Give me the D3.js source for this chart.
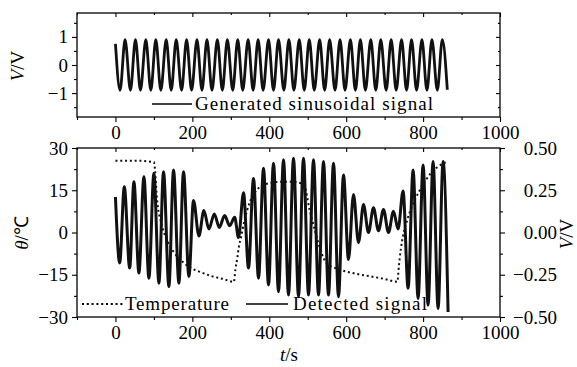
<!DOCTYPE html>
<html>
<head>
<meta charset="utf-8">
<script src="https://cdn.jsdelivr.net/npm/d3@7"></script>
<style>
  body { margin: 0; background: #fff; }
  svg { display: block; }
</style>
</head>
<body>
<svg id="chart" width="577" height="367"></svg>
<script>
// generated sinusoidal signal, extremes (s, V)
const genT = [0, 12, 25, 39, 52, 65, 79, 92, 105, 118, 132, 145, 158, 172, 185, 198, 212, 225, 238, 251,
  265, 278, 291, 305, 318, 331, 345, 358, 371, 384, 398, 411, 424, 438, 451, 464, 478, 491, 504, 517,
  531, 544, 557, 571, 584, 597, 611, 624, 637, 650, 664, 677, 690, 704, 717, 730, 744, 757, 770, 783,
  797, 810, 823, 837, 850, 863];
const genV = [0.75, -0.9, 0.9, -0.9, 0.9, -0.9, 0.9, -0.9, 0.9, -0.9, 0.9, -0.9, 0.9, -0.9, 0.9, -0.9, 0.9, -0.9, 0.9, -0.9,
  0.9, -0.9, 0.9, -0.9, 0.9, -0.9, 0.9, -0.9, 0.9, -0.9, 0.9, -0.9, 0.9, -0.9, 0.9, -0.9, 0.9, -0.9, 0.9, -0.9,
  0.9, -0.9, 0.9, -0.9, 0.9, -0.9, 0.9, -0.9, 0.9, -0.9, 0.9, -0.9, 0.9, -0.9, 0.9, -0.9, 0.9, -0.9, 0.9, -0.9,
  0.9, -0.9, 0.9, -0.9, 0.9, -0.88];

// detected signal, extremes (s, V)
const detT = [0, 11, 23, 37, 48, 61, 74, 87, 100, 113, 125, 139, 151, 165, 177, 191, 203, 217, 230, 243,
  257, 270, 284, 297, 310, 320, 333, 346, 359, 372, 385, 398, 411, 424, 437, 450, 463, 476, 489, 502,
  515, 528, 541, 554, 567, 580, 593, 606, 619, 632, 645, 658, 671, 684, 697, 710, 723, 735, 748, 761,
  774, 787, 800, 813, 826, 839, 852, 865];
const detV = [0.21, -0.18, 0.27, -0.21, 0.30, -0.24, 0.33, -0.27, 0.35, -0.30, 0.36, -0.32, 0.37, -0.30, 0.36, -0.26, 0.19, -0.02, 0.13, 0.02,
  0.11, 0.03, 0.10, 0.04, 0.09, -0.03, 0.235, -0.21, 0.32, -0.27, 0.38, -0.31, 0.41, -0.35, 0.43, -0.37, 0.44, -0.38, 0.44, -0.37,
  0.43, -0.37, 0.42, -0.37, 0.41, -0.38, 0.34, -0.16, 0.225, -0.06, 0.165, 0.0, 0.146, 0.01, 0.136, 0.0, 0.126, 0.02, 0.245, -0.33,
  0.37, -0.39, 0.40, -0.43, 0.42, -0.45, 0.42, -0.47];

// temperature (s, °C)
const tempT = [0, 50, 100, 103, 108, 120, 135, 152, 180, 195, 220, 250, 280, 308, 312, 317, 321, 327, 335, 350,
  370, 400, 430, 460, 490, 505, 520, 535, 550, 580, 620, 660, 700, 733, 737, 742, 748, 760, 780, 800,
  820, 840, 860];
const tempV = [25.5, 25.5, 25, 22, 12, 3, -3, -7, -11, -12.5, -14, -15.5, -16.5, -17.5, -13, -9, -5, -1.4, 4, 11,
  15.5, 17.5, 18, 18, 17, 8, 0, -7, -11, -13, -14.5, -15.5, -16.5, -17.5, -12, -6, -1, 5, 12, 17,
  21, 23.5, 25];

const xTicks = [0, 200, 400, 600, 800, 1000];
const xMinor = [-100, 100, 300, 500, 700, 900];
const topYTicks = [-1, 0, 1];
const topYMinor = [-1.5, -0.5, 0.5, 1.5];
const tempTicks = [-30, -15, 0, 15, 30];
const tempMinor = [-22.5, -7.5, 7.5, 22.5];
const voltTicks = [-0.5, -0.25, 0, 0.25, 0.5];
const voltMinor = [-0.375, -0.125, 0.125, 0.375];

const svg = d3.select("#chart");
const L = 77, R = 500;
const top1 = 13, bot1 = 117, top2 = 148, bot2 = 317;
const FS = "19px";
const SERIF = "Liberation Serif";

const x = d3.scaleLinear().domain([-100, 1000]).range([L, R]);
const yGen = d3.scaleLinear().domain([-1.85, 1.85]).range([bot1, top1]);
const yTemp = d3.scaleLinear().domain([-30, 30]).range([bot2, top2]);
const yVolt = d3.scaleLinear().domain([-0.5, 0.5]).range([bot2, top2]);

function styleAxis(g) {
  g.attr("font-family", null).attr("font-size", null);
  g.select(".domain").remove();
  g.selectAll("line").attr("stroke", "#000").attr("stroke-width", 1.1);
  g.selectAll("text").attr("fill", "#000");
}

function frame(y, yt, ymin, y0, y1, withRight) {
  // ticks outward on left and bottom, inward on top/right
  svg.append("g").attr("transform", `translate(0,${y1})`)
    .call(d3.axisBottom(x).tickValues(xTicks).tickSize(5).tickPadding(4).tickFormat(d3.format("d")))
    .call(styleAxis);
  svg.append("g").attr("transform", `translate(0,${y1})`)
    .call(d3.axisBottom(x).tickValues(xMinor).tickSize(3).tickFormat(""))
    .call(styleAxis);
  svg.append("g").attr("transform", `translate(0,${y0})`)
    .call(d3.axisBottom(x).tickValues(xTicks).tickSize(4).tickFormat(""))
    .call(styleAxis);
  svg.append("g").attr("transform", `translate(0,${y0})`)
    .call(d3.axisBottom(x).tickValues(xMinor).tickSize(2).tickFormat(""))
    .call(styleAxis);
  svg.append("g").attr("transform", `translate(${L},0)`)
    .call(d3.axisLeft(y).tickValues(yt).tickSize(5).tickPadding(4).tickFormat(d3.format("d")))
    .call(styleAxis);
  svg.append("g").attr("transform", `translate(${L},0)`)
    .call(d3.axisLeft(y).tickValues(ymin).tickSize(3).tickFormat(""))
    .call(styleAxis);
  if (!withRight) {
    svg.append("g").attr("transform", `translate(${R},0)`)
      .call(d3.axisLeft(y).tickValues(yt).tickSize(4).tickFormat(""))
      .call(styleAxis);
    svg.append("g").attr("transform", `translate(${R},0)`)
      .call(d3.axisLeft(y).tickValues(ymin).tickSize(2).tickFormat(""))
      .call(styleAxis);
  }
  svg.append("rect")
    .attr("x", L).attr("y", y0).attr("width", R - L).attr("height", y1 - y0)
    .attr("fill", "none").attr("stroke", "#000").attr("stroke-width", 1.3);
}

frame(yGen, topYTicks, topYMinor, top1, bot1, false);
frame(yTemp, tempTicks, tempMinor, top2, bot2, true);

// right volt axis of the lower panel
svg.append("g").attr("transform", `translate(${R},0)`)
  .call(d3.axisRight(yVolt).tickValues(voltTicks).tickSize(5).tickPadding(5).tickFormat(d3.format(".2f")))
  .call(styleAxis)
  .selectAll("text").attr("text-anchor", "end").attr("x", 57);
svg.append("g").attr("transform", `translate(${R},0)`)
  .call(d3.axisRight(yVolt).tickValues(voltMinor).tickSize(3).tickFormat(""))
  .call(styleAxis);

// series
const genLine = d3.line().x((d, i) => x(genT[i])).y(d => yGen(d)).curve(d3.curveMonotoneX);
svg.append("path").datum(genV)
  .attr("d", genLine).attr("fill", "none").attr("stroke", "#111").attr("stroke-width", 2.8);

const tempLine = d3.line().x((d, i) => x(tempT[i])).y(d => yTemp(d)).curve(d3.curveMonotoneX);
svg.append("path").datum(tempV)
  .attr("d", tempLine).attr("fill", "none").attr("stroke", "#111")
  .attr("stroke-width", 2).attr("stroke-dasharray", "2,2.8");

const detLine = d3.line().x((d, i) => x(detT[i])).y(d => yVolt(d)).curve(d3.curveMonotoneX);
svg.append("path").datum(detV)
  .attr("d", detLine).attr("fill", "none").attr("stroke", "#111").attr("stroke-width", 3);

// legends
const lg = svg.append("g").attr("fill", "#000");
lg.append("line").attr("x1", 152).attr("x2", 192).attr("y1", 104).attr("y2", 104)
  .attr("stroke", "#000").attr("stroke-width", 1.4);
lg.append("text").attr("x", 195).attr("y", 110)
  .attr("textLength", 238).attr("lengthAdjust", "spacing").text("Generated sinusoidal signal");

lg.append("line").attr("x1", 82).attr("x2", 123).attr("y1", 304).attr("y2", 304)
  .attr("stroke", "#000").attr("stroke-width", 2).attr("stroke-dasharray", "2,2.8");
lg.append("text").attr("x", 125).attr("y", 310)
  .attr("textLength", 104).attr("lengthAdjust", "spacing").text("Temperature");
lg.append("line").attr("x1", 246).attr("x2", 288).attr("y1", 304).attr("y2", 304)
  .attr("stroke", "#000").attr("stroke-width", 1.4);
lg.append("text").attr("x", 293).attr("y", 310)
  .attr("textLength", 134).attr("lengthAdjust", "spacing").text("Detected signal");

// axis titles
const at = svg.append("g").attr("fill", "#000");
const vTitle = (tx, ty) => {
  const t = at.append("text").attr("text-anchor", "middle")
    .attr("transform", `translate(${tx},${ty}) rotate(-90)`);
  t.append("tspan").style("font-style", "italic").text("V");
  t.append("tspan").text("/V");
};
vTitle(24, 66);
vTitle(573, 234);
const th = at.append("text").attr("text-anchor", "middle")
  .attr("transform", "translate(28,233) rotate(-90)");
th.append("tspan").style("font-style", "italic").text("θ");
th.append("tspan").text("/℃");
const ts = at.append("text").attr("text-anchor", "middle").attr("x", 289).attr("y", 361);
ts.append("tspan").style("font-style", "italic").text("t");
ts.append("tspan").text("/s");

// one serif face everywhere
svg.selectAll("text").style("font-family", SERIF).style("font-size", FS);
</script>
</body>
</html>
